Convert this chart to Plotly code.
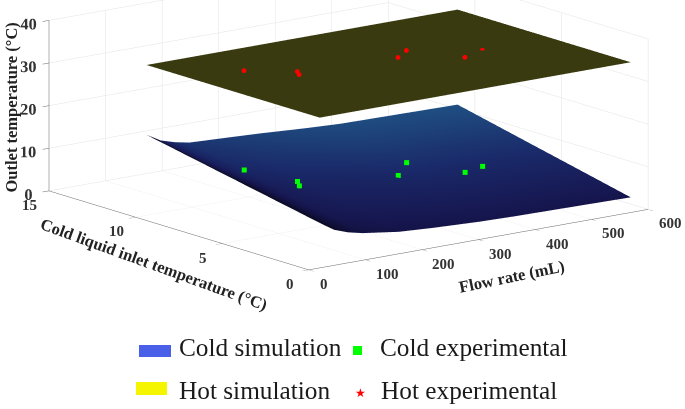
import plotly.graph_objects as go

flow_grid = [50, 75, 100, 126, 190, 250, 333, 394, 500, 600]
temp_grid = [1, 6, 11]
cold_t1 = [8.6, 6.4, 5.2, 4.4, 3.2, 2.7, 2.2, 2.0, 1.8, 1.6]
cold_t6 = [12.75, 10.7, 9.6, 8.85, 8.05, 7.6, 7.0, 6.7, 6.5, 6.3]
cold_t11 = [16.9, 15.0, 14.0, 13.3, 12.9, 12.5, 11.8, 11.4, 11.2, 11.0]
cold_z = [cold_t1, cold_t6, cold_t11]
cold_shade = [
    [0.00, 0.10, 0.18, 0.24, 0.26, 0.27, 0.28, 0.28, 0.28, 0.28],
    [0.00, 0.15, 0.30, 0.42, 0.50, 0.52, 0.56, 0.58, 0.58, 0.60],
    [0.00, 0.40, 0.62, 0.72, 0.80, 0.86, 0.92, 0.96, 0.98, 1.00],
]
hot_z = [[33.3] * 10, [33.3] * 10, [33.3] * 10]

hot_flow = [124.5, 180.5, 171.5, 344.5, 379.5, 419.5, 478]
hot_temp = [7.81, 6.56, 6.16, 6.1, 6.76, 4.69, 5.59]
hot_exp = [34.17, 34.17, 34.17, 34.17, 34.17, 34.17, 33.35]
cold_flow = [113, 169, 160, 333, 368, 408, 453]
cold_temp = [7.42, 6.17, 5.77, 5.71, 6.37, 4.3, 4.76]
cold_exp = [11.63, 9.13, 8.83, 7.23, 8.63, 7.93, 7.73]

flow_ticks = [0, 100, 200, 300, 400, 500, 600]
temp_ticks = [0, 5, 10, 15]
outlet_ticks = [0, 10, 20, 30, 40]

legend_labels = ["Cold simulation", "Hot simulation", "Cold experimental", "Hot experimental"]
axis_titles = ["Flow rate (mL)", "Cold liquid inlet temperature (°C)", "Outlet temperature (°C)"]

BLUE = [[0, "#05050f"], [0.3, "#16164f"], [0.6, "#1a2a6a"], [1, "#1f4f82"]]
OLIVE = [[0, "#3a3a10"], [1, "#3a3a10"]]
LIGHT = dict(ambient=1, diffuse=0, specular=0, roughness=1, fresnel=0)


def px(x):
    return x / 685


def py(y):
    return 1 - y / 409


fig = go.Figure()
fig.add_surface(x=flow_grid, y=temp_grid, z=cold_z, surfacecolor=cold_shade, colorscale=BLUE,
                cmin=0, cmax=1, showscale=False, lighting=LIGHT, hoverinfo="skip")
fig.add_surface(x=flow_grid, y=temp_grid, z=hot_z, surfacecolor=[[0] * 10] * 3, colorscale=OLIVE,
                cmin=0, cmax=1, showscale=False, lighting=LIGHT, hoverinfo="skip")
fig.add_scatter3d(x=cold_flow, y=cold_temp, z=cold_exp, mode="markers",
                  marker=dict(color="#00ff00", size=2.6, symbol="square"))
fig.add_scatter3d(x=hot_flow, y=hot_temp, z=hot_exp, mode="markers",
                  marker=dict(color="#ff0000", size=2.8, symbol="circle"))

TICK = dict(family="Liberation Serif", size=14, color="#333333", weight="bold")
NOTE = dict(family="Liberation Serif", size=15, color="#333333", weight="bold")
TITLE = dict(family="Liberation Serif", size=16.5, color="#222222", weight="bold")


def axis(rng, ticks, labels=True):
    return dict(title=dict(text=""), range=rng, tickmode="array", tickvals=ticks, tickfont=TICK, tickangle=0,
                showticklabels=labels, showgrid=True, gridcolor="#e4e4e4", gridwidth=1, showline=True,
                linecolor="#666666", linewidth=1, ticks="outside", ticklen=8, tickcolor="#666666",
                showbackground=False, zeroline=False, showspikes=False, autorange=False)


tick_notes = []
for f in flow_ticks:
    tick_notes.append(dict(x=f, y=0, z=0, text=str(f), xshift=22 if f else 15, yshift=-14))
for t in temp_ticks:
    tick_notes.append(dict(x=0, y=t, z=0, text=str(t), xshift=-19, yshift=-14))
for n in tick_notes:
    n.update(showarrow=False, font=NOTE, xanchor="center", yanchor="middle")

k = 4.0
eye_dir = (-0.591, -0.772, 0.2326)
cx, cy, cz = 0.0078 - 0.0313, -0.006 + 0.024, -0.491 + 0.0405
fig.update_layout(
    width=685, height=409, margin=dict(l=0, r=0, t=0, b=0), paper_bgcolor="white", showlegend=False,
    scene=dict(
        domain=dict(x=[0, 1], y=[0, 1]),
        xaxis=axis([0, 600], flow_ticks, False),
        yaxis=axis([0, 15], temp_ticks, False),
        zaxis=axis([0, 40], outlet_ticks),
        annotations=tick_notes,
        aspectmode="manual", aspectratio=dict(x=2.09, y=2.09, z=0.857),
        camera=dict(projection=dict(type="orthographic"),
                    up=dict(x=0, y=0, z=1),
                    center=dict(x=cx, y=cy, z=cz),
                    eye=dict(x=cx + k * eye_dir[0], y=cy + k * eye_dir[1], z=cz + k * eye_dir[2])),
    ),
)

LEG = dict(family="Liberation Serif", size=25.3, color="#1a1a1a")
for label, x, y in zip(legend_labels, [177, 177, 378, 379], [347, 390, 347, 390]):
    fig.add_annotation(text=label, xref="paper", yref="paper", x=px(x), y=py(y),
                       xanchor="left", yanchor="middle", showarrow=False, font=LEG)
for (x0, y0, x1, y1, c) in [(139, 345, 171, 357, "#4a60e8"), (136, 382, 167, 395, "#f5f500"),
                            (353, 346, 362, 355, "#00ff00")]:
    fig.add_shape(type="rect", xref="paper", yref="paper", x0=px(x0), x1=px(x1),
                  y0=py(y0), y1=py(y1), fillcolor=c, line_width=0)
fig.add_annotation(text="★", xref="paper", yref="paper", x=px(360), y=py(393), showarrow=False,
                   xanchor="center", yanchor="middle",
                   font=dict(size=12, color="#ff0000", family="DejaVu Sans"))
for label, x, y, ang in zip(axis_titles, [512, 154, 11], [276, 264, 107.5], [-11.6, 20, -90]):
    fig.add_annotation(text=label, xref="paper", yref="paper", x=px(x), y=py(y), textangle=ang,
                       xanchor="center", yanchor="middle", showarrow=False, font=TITLE)
fig.write_html("out.html", config=dict(displayModeBar=False),
               post_script="document.body.style.margin='0';")
